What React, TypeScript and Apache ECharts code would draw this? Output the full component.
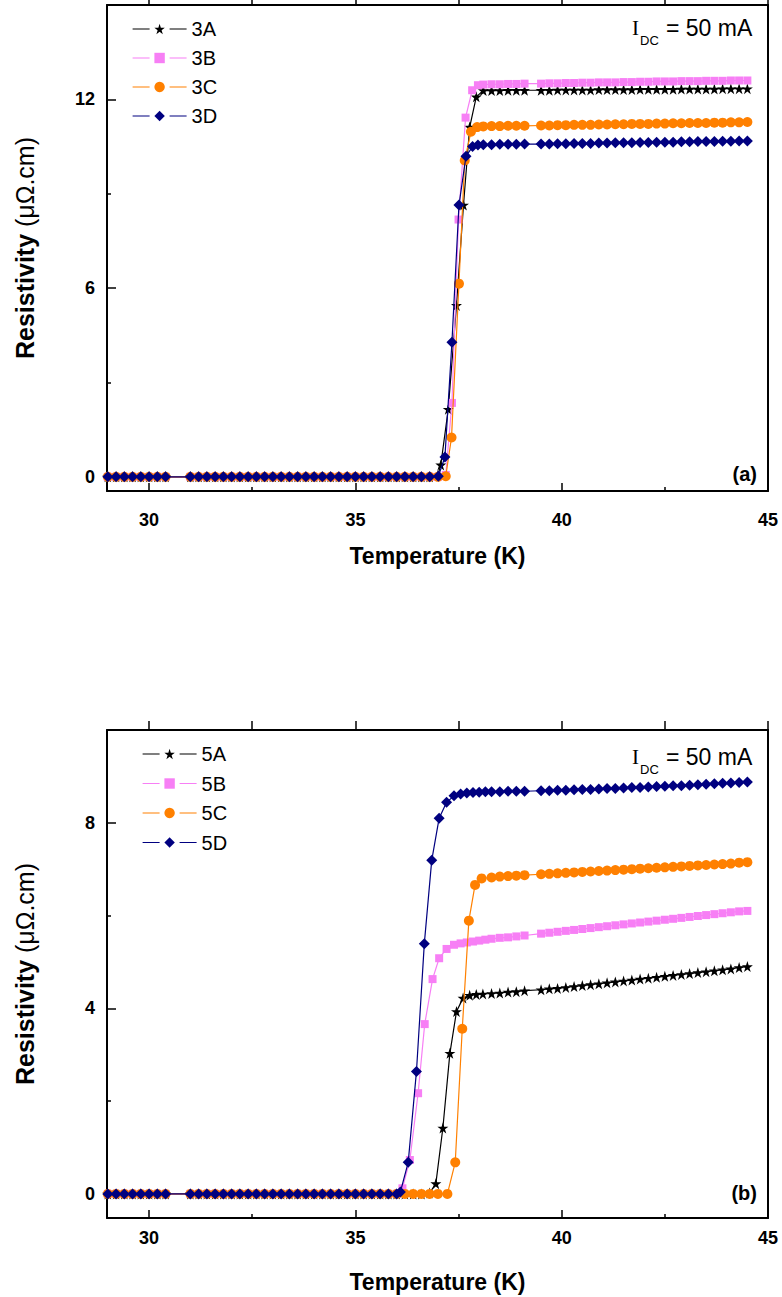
import React, { useEffect, useRef } from "react";
import * as echarts from "echarts";

// ---------- DATA ----------
// Panel (a)
const lowTA = [29.0, 29.2, 29.4, 29.6, 29.8, 30.0, 30.2, 30.4, 31.0, 31.2, 31.4, 31.6, 31.8, 32.0, 32.2, 32.4, 32.6, 32.8, 33.0, 33.2, 33.4, 33.6, 33.8, 34.0, 34.2, 34.4, 34.6, 34.8, 35.0, 35.2, 35.4, 35.6, 35.8, 36.0, 36.2, 36.4, 36.6, 36.8];
const lowRA = [0, 0, 0, 0, 0, 0, 0, 0, 0, 0, 0, 0, 0, 0, 0, 0, 0, 0, 0, 0, 0, 0, 0, 0, 0, 0, 0, 0, 0, 0, 0, 0, 0, 0, 0, 0, 0, 0];
const highTA = [38.1, 38.3, 38.5, 38.7, 38.9, 39.1, 39.5, 39.7, 39.9, 40.1, 40.3, 40.5, 40.7, 40.9, 41.1, 41.3, 41.5, 41.7, 41.9, 42.1, 42.3, 42.5, 42.7, 42.9, 43.1, 43.3, 43.5, 43.7, 43.9, 44.1, 44.3, 44.5];

const t3A = [37.0, 37.07, 37.25, 37.45, 37.62, 37.77, 37.93];
const r3A = [0.05, 0.38, 2.15, 5.45, 8.64, 11.12, 12.08];
const h3A = [12.28, 12.28, 12.28, 12.29, 12.29, 12.29, 12.29, 12.29, 12.3, 12.3, 12.3, 12.3, 12.3, 12.31, 12.31, 12.31, 12.31, 12.31, 12.32, 12.32, 12.32, 12.32, 12.32, 12.33, 12.33, 12.33, 12.33, 12.33, 12.34, 12.34, 12.34, 12.34];

const t3B = [37.0, 37.19, 37.34, 37.5, 37.67, 37.83, 37.97];
const r3B = [0.0, 0.06, 2.35, 8.18, 11.42, 12.29, 12.45];
const h3B = [12.47, 12.48, 12.48, 12.49, 12.49, 12.5, 12.5, 12.51, 12.51, 12.52, 12.52, 12.53, 12.53, 12.54, 12.54, 12.54, 12.55, 12.55, 12.56, 12.56, 12.57, 12.57, 12.57, 12.58, 12.58, 12.58, 12.59, 12.59, 12.59, 12.6, 12.6, 12.6];

const t3C = [37.0, 37.19, 37.33, 37.51, 37.65, 37.8, 37.95];
const r3C = [0.0, 0.02, 1.25, 6.14, 10.06, 10.97, 11.12];
const h3C = [11.14, 11.15, 11.15, 11.16, 11.16, 11.16, 11.17, 11.17, 11.18, 11.18, 11.19, 11.19, 11.19, 11.2, 11.2, 11.21, 11.21, 11.22, 11.22, 11.22, 11.23, 11.23, 11.24, 11.24, 11.25, 11.25, 11.25, 11.26, 11.26, 11.27, 11.27, 11.28];

const t3D = [37.01, 37.17, 37.34, 37.51, 37.68, 37.84, 37.97];
const r3D = [0.02, 0.63, 4.28, 8.64, 10.19, 10.5, 10.55];
const h3D = [10.56, 10.56, 10.57, 10.57, 10.57, 10.58, 10.58, 10.58, 10.59, 10.59, 10.6, 10.6, 10.6, 10.61, 10.61, 10.62, 10.62, 10.62, 10.63, 10.63, 10.64, 10.64, 10.64, 10.65, 10.65, 10.66, 10.66, 10.66, 10.67, 10.67, 10.68, 10.68];

// Panel (b)
const lowTB = [29.0, 29.2, 29.4, 29.6, 29.8, 30.0, 30.2, 30.4, 31.0, 31.2, 31.4, 31.6, 31.8, 32.0, 32.2, 32.4, 32.6, 32.8, 33.0, 33.2, 33.4, 33.6, 33.8, 34.0, 34.2, 34.4, 34.6, 34.8, 35.0, 35.2, 35.4, 35.6, 35.8];
const lowRB = [0, 0, 0, 0, 0, 0, 0, 0, 0, 0, 0, 0, 0, 0, 0, 0, 0, 0, 0, 0, 0, 0, 0, 0, 0, 0, 0, 0, 0, 0, 0, 0, 0];
const highTB = [38.3, 38.5, 38.7, 38.9, 39.1, 39.5, 39.7, 39.9, 40.1, 40.3, 40.5, 40.7, 40.9, 41.1, 41.3, 41.5, 41.7, 41.9, 42.1, 42.3, 42.5, 42.7, 42.9, 43.1, 43.3, 43.5, 43.7, 43.9, 44.1, 44.3, 44.5];

const t5A = [36.0, 36.2, 36.4, 36.6, 36.8, 36.95, 37.12, 37.29, 37.45, 37.61, 37.77, 37.93, 38.09];
const r5A = [0, 0, 0, 0, 0.02, 0.22, 1.42, 3.03, 3.93, 4.22, 4.28, 4.3, 4.31];
const h5A = [4.32, 4.33, 4.35, 4.36, 4.38, 4.4, 4.42, 4.43, 4.45, 4.47, 4.49, 4.51, 4.53, 4.55, 4.57, 4.59, 4.61, 4.63, 4.65, 4.67, 4.69, 4.71, 4.73, 4.75, 4.77, 4.79, 4.81, 4.83, 4.85, 4.88, 4.9];

const t5B = [36.0, 36.14, 36.32, 36.52, 36.68, 36.87, 37.03, 37.21, 37.39, 37.55, 37.7, 37.85, 38.0, 38.15];
const r5B = [0.0, 0.12, 0.73, 2.17, 3.66, 4.63, 5.08, 5.28, 5.37, 5.4, 5.42, 5.44, 5.46, 5.48];
const h5B = [5.5, 5.52, 5.53, 5.55, 5.57, 5.61, 5.63, 5.65, 5.67, 5.69, 5.71, 5.73, 5.75, 5.77, 5.79, 5.81, 5.83, 5.85, 5.87, 5.89, 5.91, 5.93, 5.95, 5.97, 5.99, 6.01, 6.03, 6.05, 6.07, 6.09, 6.1];

const t5C = [36.0, 36.2, 36.4, 36.6, 36.8, 37.0, 37.23, 37.42, 37.59, 37.75, 37.9, 38.06];
const r5C = [0, 0, 0, 0, 0, 0, 0.0, 0.68, 3.56, 5.89, 6.66, 6.8];
const h5C = [6.82, 6.84, 6.85, 6.86, 6.87, 6.89, 6.9, 6.91, 6.92, 6.93, 6.94, 6.95, 6.96, 6.97, 6.98, 6.99, 7.0, 7.01, 7.02, 7.03, 7.04, 7.05, 7.06, 7.07, 7.08, 7.09, 7.1, 7.11, 7.12, 7.14, 7.15];

const t5D = [36.0, 36.09, 36.28, 36.48, 36.67, 36.85, 37.03, 37.21, 37.39, 37.55, 37.7, 37.85, 38.0, 38.15];
const r5D = [0.0, 0.04, 0.68, 2.64, 5.39, 7.19, 8.1, 8.44, 8.58, 8.62, 8.64, 8.65, 8.66, 8.67];
const h5D = [8.67, 8.67, 8.68, 8.68, 8.68, 8.69, 8.69, 8.7, 8.7, 8.71, 8.72, 8.72, 8.73, 8.74, 8.74, 8.75, 8.76, 8.76, 8.77, 8.78, 8.79, 8.8, 8.8, 8.81, 8.82, 8.83, 8.84, 8.85, 8.86, 8.87, 8.88];

// Axis ticks
const xMajor = [30, 35, 40, 45];
const xMinor = [32.5, 37.5, 42.5];
const xTop = [30, 32.5, 35, 37.5, 40, 42.5, 45];
const yMajorA = [0, 6, 12];
const yMinorA = [3, 9];
const yMajorB = [0, 4, 8];
const yMinorB = [2, 6];

const namesA = ["3A", "3B", "3C", "3D"];
const namesB = ["5A", "5B", "5C", "5D"];

// ---------- STYLE ----------
const FONT = '"Liberation Sans", Arial, sans-serif';
const COLORS = ["#000000", "#f77ff5", "#ff8000", "#000080"];
const STAR =
  "path://M0,-10L2.245,-3.09L9.511,-3.09L3.633,1.18L5.878,8.09L0,3.82L-5.878,8.09L-3.633,1.18L-9.511,-3.09L-2.245,-3.09Z";
const SYMBOLS = [STAR, "rect", "circle", "diamond"];
const SIZES = [11, 8, 10, 11];

function zip(t: number[], r: number[]) {
  return t.map((x, i) => [x, r[i]]);
}

function buildData(lowT: number[], lowR: number[], t: number[], r: number[], highT: number[], highR: number[]) {
  return [...zip(lowT, lowR), ...zip(t, r), ...zip(highT, highR)];
}

function xAxes(g: number, labelMargin: number, nameGap: number) {
  const line = { show: true, onZero: false, lineStyle: { color: "#000", width: 2 } };
  return [
    {
      gridIndex: g, type: "value", min: 28.98, max: 45, position: "bottom",
      axisLine: line,
      axisTick: { show: true, inside: true, length: 8, lineStyle: { color: "#000", width: 1.5 }, customValues: xMajor },
      axisLabel: { show: true, customValues: xMajor, color: "#000", fontFamily: FONT, fontSize: 18, fontWeight: "bold", margin: labelMargin },
      splitLine: { show: false },
      name: "Temperature (K)", nameLocation: "middle", nameGap,
      nameTextStyle: { color: "#000", fontFamily: FONT, fontSize: 23, fontWeight: "bold" },
    },
    {
      gridIndex: g, type: "value", min: 28.98, max: 45, position: "bottom",
      axisLine: { show: false, onZero: false },
      axisTick: { show: true, inside: true, length: 4, lineStyle: { color: "#000", width: 1.5 }, customValues: xMinor },
      axisLabel: { show: false },
      splitLine: { show: false },
    },
    {
      gridIndex: g, type: "value", min: 28.98, max: 45, position: "top",
      axisLine: line,
      axisTick: { show: true, inside: false, length: 9, lineStyle: { color: "#000", width: 1.5 }, customValues: xTop },
      axisLabel: { show: false },
      splitLine: { show: false },
    },
  ];
}

function yAxes(g: number, min: number, max: number, major: number[], minor: number[]) {
  const line = { show: true, onZero: false, lineStyle: { color: "#000", width: 2 } };
  return [
    {
      gridIndex: g, type: "value", min, max, position: "left",
      axisLine: line,
      axisTick: { show: true, inside: true, length: 9, lineStyle: { color: "#000", width: 1.5 }, customValues: major },
      axisLabel: { show: true, customValues: major, color: "#000", fontFamily: FONT, fontSize: 18, fontWeight: "bold", margin: 12 },
      splitLine: { show: false },
      name: "{b|Resistivity} {n|(μΩ.cm)}",
      nameLocation: "middle", nameGap: 70, nameRotate: 90,
      nameTextStyle: {
        color: "#000",
        fontFamily: FONT,
        fontSize: 25,
        rich: {
          b: { fontFamily: FONT, fontSize: 25, fontWeight: "bold", color: "#000" },
          n: { fontFamily: FONT, fontSize: 25, fontWeight: "normal", color: "#000" },
        },
      },
    },
    {
      gridIndex: g, type: "value", min, max, position: "left",
      axisLine: { show: false, onZero: false },
      axisTick: { show: true, inside: true, length: 4, lineStyle: { color: "#000", width: 1.5 }, customValues: minor },
      axisLabel: { show: false },
      splitLine: { show: false },
    },
    {
      gridIndex: g, type: "value", min, max, position: "right",
      axisLine: line,
      axisTick: { show: false },
      axisLabel: { show: false },
      splitLine: { show: false },
    },
  ];
}

function makeSeries(name: string, idx: number, axisBase: number, data: number[][]) {
  return {
    name, type: "line", xAxisIndex: axisBase, yAxisIndex: axisBase, data,
    symbol: SYMBOLS[idx], symbolSize: SIZES[idx], showSymbol: true,
    lineStyle: { color: COLORS[idx], width: 1.2 },
    itemStyle: { color: COLORS[idx] },
    emphasis: { disabled: true },
    z: 2 + idx,
  };
}

function legend(names: string[], left: number, top: number, gap: number) {
  return {
    data: names, orient: "vertical", left, top,
    itemWidth: 54, itemHeight: 13, itemGap: gap, selectedMode: false,
    textStyle: { color: "#000", fontFamily: FONT, fontSize: 20, lineHeight: 20 },
    lineStyle: { type: [17, 20], width: 1.2 },
  };
}

function idcTexts(y: number) {
  return [
    { type: "text", x: 632, y: y, style: { text: "I", fontFamily: '"Liberation Serif", serif', fontSize: 21, fill: "#000", verticalAlign: "middle" } },
    { type: "text", x: 640, y: y + 12, style: { text: "DC", fontFamily: FONT, fontSize: 13, fill: "#000", verticalAlign: "middle" } },
    { type: "text", x: 666, y: y, style: { text: "= 50 mA", fontFamily: FONT, fontSize: 23, fill: "#000", verticalAlign: "middle" } },
  ];
}

export default function App() {
  const ref = useRef<HTMLDivElement>(null);
  useEffect(() => {
    document.body.style.margin = "0";
    if (!ref.current) return;
    const chart = echarts.init(ref.current, null, { renderer: "svg" });
    const series = [
      makeSeries("3A", 0, 0, buildData(lowTA, lowRA, t3A, r3A, highTA, h3A)),
      makeSeries("3B", 1, 0, buildData(lowTA, lowRA, t3B, r3B, highTA, h3B)),
      makeSeries("3C", 2, 0, buildData(lowTA, lowRA, t3C, r3C, highTA, h3C)),
      makeSeries("3D", 3, 0, buildData(lowTA, lowRA, t3D, r3D, highTA, h3D)),
      makeSeries("5A", 0, 3, buildData(lowTB, lowRB, t5A, r5A, highTB, h5A)),
      makeSeries("5B", 1, 3, buildData(lowTB, lowRB, t5B, r5B, highTB, h5B)),
      makeSeries("5C", 2, 3, buildData(lowTB, lowRB, t5C, r5C, highTB, h5C)),
      makeSeries("5D", 3, 3, buildData(lowTB, lowRB, t5D, r5D, highTB, h5D)),
    ];
    chart.setOption({
      animation: false,
      backgroundColor: "#ffffff",
      grid: [
        { left: 107, right: 14, top: 5, height: 486, containLabel: false },
        { left: 107, right: 14, top: 730, height: 488, containLabel: false },
      ],
      xAxis: [...xAxes(0, 20, 53), ...xAxes(1, 11, 52)],
      yAxis: [...yAxes(0, -0.45, 15, yMajorA, yMinorA), ...yAxes(1, -0.52, 10, yMajorB, yMinorB)],
      legend: [legend(namesA, 127, 14, 9), legend(namesB, 137, 739, 9.5)],
      graphic: [
        ...idcTexts(28),
        ...idcTexts(757),
        { type: "text", x: 757, y: 474, style: { text: "(a)", fontFamily: FONT, fontSize: 20, fontWeight: "bold", fill: "#000", align: "right", verticalAlign: "middle" } },
        { type: "text", x: 757, y: 1193, style: { text: "(b)", fontFamily: FONT, fontSize: 20, fontWeight: "bold", fill: "#000", align: "right", verticalAlign: "middle" } },
      ],
      series,
    });
    return () => chart.dispose();
  }, []);
  return <div ref={ref} style={{ width: 782, height: 1297 }} />;
}
